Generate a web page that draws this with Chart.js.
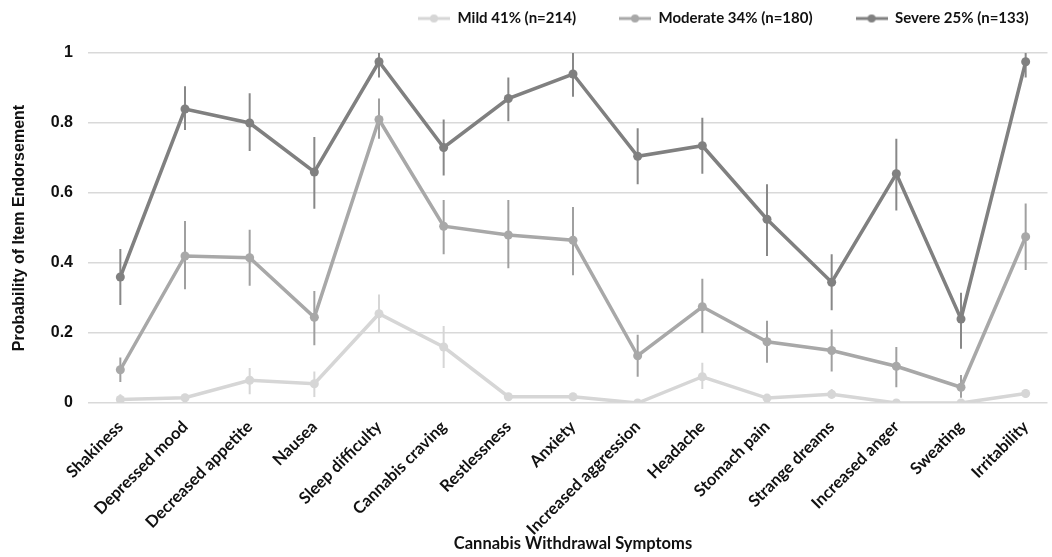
<!DOCTYPE html>
<html>
<head>
<meta charset="utf-8">
<script src="https://cdn.jsdelivr.net/npm/chart.js@4/dist/chart.umd.min.js"></script>
<style>
  html, body { margin: 0; padding: 0; background: #fff; }
  #wrap { width: 1052px; height: 557px; }
</style>
</head>
<body>
<div id="wrap"><canvas id="line-chart"></canvas></div>
<script>
var symptoms = ["Shakiness", "Depressed mood", "Decreased appetite", "Nausea", "Sleep difficulty",
  "Cannabis craving", "Restlessness", "Anxiety", "Increased aggression", "Headache",
  "Stomach pain", "Strange dreams", "Increased anger", "Sweating", "Irritability"];

var mild = [0.01, 0.015, 0.065, 0.055, 0.255, 0.16, 0.018, 0.018, 0.0, 0.075, 0.014, 0.025, 0.0, 0.0, 0.027];
var mildLow = [0.0, 0.005, 0.025, 0.017, 0.2, 0.1, 0.01, 0.01, 0.0, 0.04, 0.005, 0.012, 0.0, 0.0, 0.015];
var mildHigh = [0.025, 0.025, 0.1, 0.09, 0.31, 0.22, 0.028, 0.028, 0.005, 0.115, 0.025, 0.04, 0.005, 0.005, 0.04];

var moderate = [0.095, 0.42, 0.415, 0.245, 0.81, 0.505, 0.48, 0.465, 0.135, 0.275, 0.175, 0.15, 0.105, 0.045, 0.475];
var moderateLow = [0.06, 0.325, 0.335, 0.165, 0.755, 0.425, 0.385, 0.365, 0.075, 0.2, 0.115, 0.09, 0.045, 0.015, 0.38];
var moderateHigh = [0.13, 0.52, 0.495, 0.32, 0.87, 0.58, 0.58, 0.56, 0.195, 0.355, 0.235, 0.21, 0.16, 0.08, 0.57];

var severe = [0.36, 0.84, 0.8, 0.66, 0.975, 0.73, 0.87, 0.94, 0.705, 0.735, 0.525, 0.345, 0.655, 0.24, 0.975];
var severeLow = [0.28, 0.78, 0.72, 0.555, 0.93, 0.65, 0.805, 0.875, 0.625, 0.655, 0.42, 0.265, 0.55, 0.155, 0.93];
var severeHigh = [0.44, 0.905, 0.885, 0.76, 1.0, 0.81, 0.93, 1.0, 0.785, 0.815, 0.625, 0.425, 0.755, 0.315, 1.0];

var yTicks = [0, 0.2, 0.4, 0.6, 0.8, 1];

var colMild = "#d6d6d6", colModerate = "#a8a8a8", colSevere = "#808080";

function legendMark(color) {
  var c = document.createElement("canvas");
  c.width = 32; c.height = 12;
  var g = c.getContext("2d");
  g.strokeStyle = color; g.lineWidth = 3;
  g.beginPath(); g.moveTo(0, 6); g.lineTo(32, 6); g.stroke();
  g.fillStyle = color;
  g.beginPath(); g.arc(16, 6, 4, 0, Math.PI * 2); g.fill();
  return c;
}

var errorBars = {
  id: "errorBars",
  beforeDatasetsDraw: function(chart) {
    var ctx = chart.ctx, x = chart.scales.x, y = chart.scales.y;
    chart.data.datasets.forEach(function(ds) {
      ctx.save();
      ctx.strokeStyle = ds.errColor;
      ctx.lineWidth = 2;
      for (var i = 0; i < ds.low.length; i++) {
        var px = x.getPixelForValue(i);
        ctx.beginPath();
        ctx.moveTo(px, y.getPixelForValue(ds.low[i]));
        ctx.lineTo(px, y.getPixelForValue(ds.high[i]));
        ctx.stroke();
      }
      ctx.restore();
    });
  }
};

// legend sits right of centre in the original, and the plot runs a bit past the right edge
var legendPlace = {
  id: "legendPlace",
  afterLayout: function(chart) {
    chart.legend.left = 375;
    chart.legend.right = 1200;
    chart.legend.top = -32;
    var xs = chart.scales.x;
    xs.right = 1058;
    xs.width = xs.right - xs.left;
    xs.configure();
  }
};

new Chart(document.getElementById("line-chart"), {
  type: "line",
  data: {
    labels: symptoms,
    datasets: [
      { label: "Mild 41% (n=214)", data: mild, low: mildLow, high: mildHigh,
        borderColor: colMild, backgroundColor: colMild, errColor: colMild },
      { label: "Moderate 34% (n=180)", data: moderate, low: moderateLow, high: moderateHigh,
        borderColor: colModerate, backgroundColor: colModerate, errColor: "#a0a0a0" },
      { label: "Severe 25% (n=133)", data: severe, low: severeLow, high: severeHigh,
        borderColor: colSevere, backgroundColor: colSevere, errColor: "#888888" }
    ]
  },
  options: {
    responsive: true,
    maintainAspectRatio: false,
    animation: false,
    layout: { padding: 0 },
    elements: {
      line: { borderWidth: 3.5, tension: 0 },
      point: { radius: 4.5, borderWidth: 0 }
    },
    plugins: {
      tooltip: { enabled: false },
      legend: {
        position: "top",
        align: "start",
        labels: {
          usePointStyle: true,
          pointStyleWidth: 32,
          padding: 43,
          color: "#111",
          font: { family: "Lato", weight: "bold", size: 15 },
          generateLabels: function(chart) {
            var items = Chart.defaults.plugins.legend.labels.generateLabels(chart);
            items.forEach(function(it, i) {
              it.pointStyle = legendMark(chart.data.datasets[i].borderColor);
            });
            return items;
          }
        }
      }
    },
    scales: {
      x: {
        offset: true,
        grid: { display: false, drawTicks: false },
        border: { display: false },
        ticks: {
          minRotation: 45, maxRotation: 45, padding: 14, color: "#111",
          font: { family: "Lato", weight: "bold", size: 16.5 }
        },
        title: {
          display: true, text: "Cannabis Withdrawal Symptoms", color: "#111",
          font: { family: "Lato", weight: "bold", size: 16.5 },
          padding: { top: 0, bottom: 3 }
        },
        afterFit: function(scale) { scale.height = 154; }
      },
      y: {
        min: 0, max: 1,
        afterBuildTicks: function(scale) {
          scale.ticks = yTicks.map(function(v) { return { value: v }; });
        },
        grid: { color: "#d9d9d9", lineWidth: 1.5, drawTicks: false },
        border: { display: false },
        ticks: {
          padding: 15, color: "#111",
          font: { family: "Liberation Sans", weight: "bold", size: 16 },
          callback: function(v) { return String(v); }
        },
        title: {
          display: true, text: "Probability of Item Endorsement", color: "#111",
          font: { family: "Liberation Sans", weight: "bold", size: 16 },
          padding: { top: 10, bottom: 0 }
        },
        afterFit: function(scale) { scale.width = 88; }
      }
    }
  },
  plugins: [errorBars, legendPlace, {
    id: "legendHeight",
    beforeInit: function(chart) {
      var fit = chart.legend.fit;
      chart.legend.fit = function() {
        fit.call(chart.legend);
        this.height = 53;
      };
    }
  }]
});
</script>
</body>
</html>
